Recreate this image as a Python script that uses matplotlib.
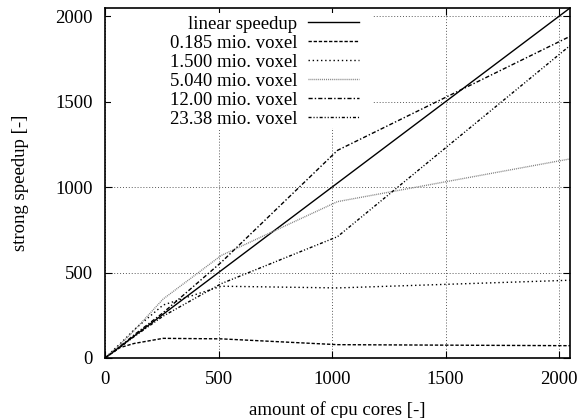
import matplotlib
matplotlib.use("Agg")
import matplotlib.pyplot as plt
from matplotlib.patches import Rectangle

plt.rcParams['font.family'] = ['Liberation Serif', 'DejaVu Serif']

# cpu cores used in the runs
cores = [1, 64, 128, 256, 512, 1024, 2048]
linear = [1, 2048]
linear_cores = [1, 2048]

# measured strong speedup per problem size
s_0185 = [1, 60, 85, 115, 112, 78, 72]
s_1500 = [1, 80, 165, 310, 420, 410, 455]
s_5040 = [1, 75, 160, 345, 600, 915, 1165]
s_1200 = [1, 65, 135, 265, 560, 1215, 1882]
s_2338 = [1, 60, 125, 245, 435, 710, 1828]

labels = ["linear speedup", "0.185 mio. voxel", "1.500 mio. voxel",
          "5.040 mio. voxel", "12.00 mio. voxel", "23.38 mio. voxel"]

fig = plt.figure(figsize=(5.79, 4.18), dpi=100)
ax = fig.add_axes([105/579, 1 - 358/418, 465/579, 350/418])

fs = 13.5
lw = 1.0
ax.plot(linear_cores, linear, color='black', lw=lw, label=labels[0])
ax.plot(cores, s_0185, color='black', lw=lw, ls=(0, (2.4, 1.3)), label=labels[1])
ax.plot(cores, s_1500, color='black', lw=lw, ls=(0, (1.0, 2.0)), label=labels[2])
ax.plot(cores, s_5040, color='0.5', lw=lw, ls=(0, (0.7, 0.7)), label=labels[3])
ax.plot(cores, s_1200, color='black', lw=lw, ls=(0, (3.0, 1.5, 1.0, 1.5)), label=labels[4])
ax.plot(cores, s_2338, color='black', lw=lw,
        ls=(0, (2.2, 1.4, 0.8, 1.4, 0.8, 1.4)), label=labels[5])

ax.set_xlim(0, 2048)
ax.set_ylim(0, 2048)
ax.set_xticks([0, 500, 1000, 1500, 2000])
ax.set_yticks([0, 500, 1000, 1500, 2000])
ax.grid(True, color='0.35', lw=0.7, ls=(0, (1, 2)))
ax.set_axisbelow(True)

ax.tick_params(direction='in', top=True, right=True, length=5, width=0.8,
               labelsize=fs, pad=9)
for sp in ax.spines.values():
    sp.set_linewidth(1.2)

# opaque key area (hides the grid behind the legend, like gnuplot)
ax.add_patch(Rectangle((6/465, 230/350), 262/465, 115/350, transform=ax.transAxes,
                       facecolor='white', edgecolor='none', zorder=1))

ax.set_xlabel("amount of cpu cores [-]", fontsize=fs, labelpad=10)
ax.set_ylabel("strong speedup [-]", fontsize=fs, labelpad=19)

leg = ax.legend(loc='upper right', bbox_to_anchor=(365/579, 1 - 10/418),
                bbox_transform=fig.transFigure, markerfirst=False,
                fontsize=fs, handlelength=2.72, handletextpad=0.6,
                labelspacing=0.1, borderpad=0.3, borderaxespad=0,
                frameon=False)

fig.savefig("out.png", dpi=100)
